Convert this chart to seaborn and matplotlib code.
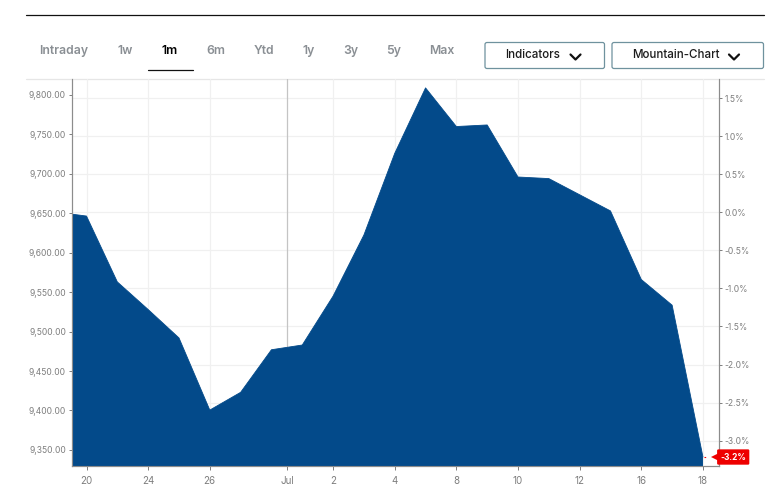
import matplotlib
matplotlib.use("Agg")
import matplotlib.pyplot as plt
import seaborn as sns
from matplotlib.lines import Line2D
from matplotlib.patches import FancyBboxPatch
from matplotlib.transforms import blended_transform_factory

# positions are trading days counted from the "20" tick
days = [-0.49, 0, 1, 2, 3, 4, 5, 6, 7, 8, 9, 10, 11, 12, 13, 14, 15, 16, 17, 18, 19, 20]
values = [9649, 9646.5, 9563, 9528, 9492, 9400.5, 9423, 9477, 9483, 9545, 9622.5, 9726,
          9809, 9760, 9762, 9696, 9694, 9673.5, 9653, 9566, 9533.5, 9341]
base_value = 9651.3

x_tick_pos = [0, 2, 4, 6.52, 8, 10, 12, 14, 16, 18, 20]
x_tick_labels = ['20', '24', '26', 'Jul', '2', '4', '8', '10', '12', '16', '18']
price_ticks = [9350, 9400, 9450, 9500, 9550, 9600, 9650, 9700, 9750, 9800]
pct_ticks = [1.5, 1.0, 0.5, 0.0, -0.5, -1.0, -1.5, -2.0, -2.5, -3.0]
last_pct_label = '-3.2%'

ranges = ['Intraday', '1w', '1m', '6m', 'Ytd', '1y', '3y', '5y', 'Max']
range_x = [64, 125, 170, 216, 264, 309, 351, 394, 442]

W, H = 770, 497
BLUE = '#034a8a'
GREY = '#7d7d7d'
RED = '#ee0000'
EDGE = '#6f929e'


def fx(px):
    return px / W


def fy(py):
    return 1 - py / H


sns.set_theme(style='white')
plt.rcParams['font.family'] = ['Inter', 'DejaVu Sans']

fig = plt.figure(figsize=(W / 100, H / 100), dpi=100)
ax = fig.add_axes([fx(71.5), fy(466), fx(719.3 - 71.5), (466 - 78.5) / H])
ax2 = ax.twinx()

# price axis goes on top so the mountain hides the grid of the percent axis
ax.set_zorder(2)
ax2.set_zorder(1)
ax.patch.set_visible(False)

sns.lineplot(x=days, y=values, ax=ax, color=BLUE, linewidth=0.6, errorbar=None)
ax.fill_between(days, values, 9000, color=BLUE, linewidth=0)

ax.set_xlim(-0.487, 20.53)
ax.set_ylim(9329.6, 9820.9)
ax2.set_ylim((9329.6 - base_value) / base_value * 100, (9820.9 - base_value) / base_value * 100)

ax.set_xticks(x_tick_pos)
ax.set_xticklabels(x_tick_labels)
ax.set_yticks(price_ticks)
ax.set_yticklabels([f'{v:,.2f}' for v in price_ticks])
ax2.set_yticks(pct_ticks)
ax2.set_yticklabels([f'{v:.1f}%' for v in pct_ticks])

ax.tick_params(axis='x', length=3, width=0.7, color=GREY, labelcolor=GREY, labelsize=7.0, pad=4, bottom=True)
ax.tick_params(axis='y', length=2.5, width=0.7, color=GREY, labelcolor=GREY, labelsize=6.1, pad=1.5, left=True)
ax2.tick_params(axis='y', length=2.5, width=0.7, color=GREY, labelcolor=GREY, labelsize=6.1, pad=1.5, right=True)

ax.grid(False)
ax.xaxis.grid(True, color='#f0f0f0', linewidth=0.9)
ax.set_axisbelow(True)
ax.get_xgridlines()[3].set_color('#c4c4c4')
ax2.grid(False)
ax2.yaxis.grid(True, color='#f0f0f0', linewidth=0.9)

for a in (ax, ax2):
    a.spines['top'].set_visible(False)
    for side in ('left', 'right', 'bottom'):
        a.spines[side].set_color('#8c8c8c')
        a.spines[side].set_linewidth(0.8)

# last value tag
tag_tr = blended_transform_factory(ax.transAxes, ax.transData)
ax.plot([days[-1] + 0.03, days[-1] + 0.25], [values[-1], values[-1]], color=RED, linewidth=0.8,
        linestyle=(0, (1.5, 5)), clip_on=False, zorder=5)
ax.plot([0.9955], [values[-1]], marker='<', markersize=7.5, color=RED, markeredgewidth=0,
        transform=tag_tr, clip_on=False, zorder=6)
ax.text(1.0015, values[-1], last_pct_label, transform=tag_tr, color='white', fontsize=6.0,
        fontweight='bold', va='center', ha='left', clip_on=False, zorder=7,
        bbox=dict(boxstyle='round,pad=0.38,rounding_size=0.15', fc=RED, ec='none'))

# header: rules, range selector, dropdown buttons
fig.add_artist(Line2D([fx(26), fx(764)], [fy(15.3), fy(15.3)], color='#111111', linewidth=0.9))
fig.add_artist(Line2D([fx(26), fx(764)], [fy(78.5), fy(78.5)], color='#e6e6e6', linewidth=0.9))

for label, px in zip(ranges, range_x):
    fig.text(fx(px), fy(50.7), label, ha='center', va='center', fontsize=8.8, fontweight='semibold',
             color='#000000' if label == '1m' else '#8a8f94', family='Inter')
fig.add_artist(Line2D([fx(148), fx(193)], [fy(69.5), fy(69.5)], color='#111111', linewidth=0.9))


def button(x0, x1, label, text_x, chevron_x):
    fig.add_artist(FancyBboxPatch((x0, H - 68.5), x1 - x0, 26, boxstyle='round,pad=0,rounding_size=2',
                                  transform=None, fc='white', ec=EDGE, linewidth=0.9))
    fig.text(fx(text_x), fy(54.5), label, ha='left', va='center', fontsize=8.35, color='#1c1c1c',
             family='Inter', fontweight='medium')
    fig.add_artist(Line2D([fx(chevron_x - 5), fx(chevron_x), fx(chevron_x + 5)],
                          [fy(54.5), fy(59.5), fy(54.5)], color='#111111', linewidth=1.6))


button(485, 604.5, 'Indicators', 505, 575.5)
button(612, 763.5, 'Mountain-Chart', 632.5, 734)

fig.savefig('out.png', dpi=100)
